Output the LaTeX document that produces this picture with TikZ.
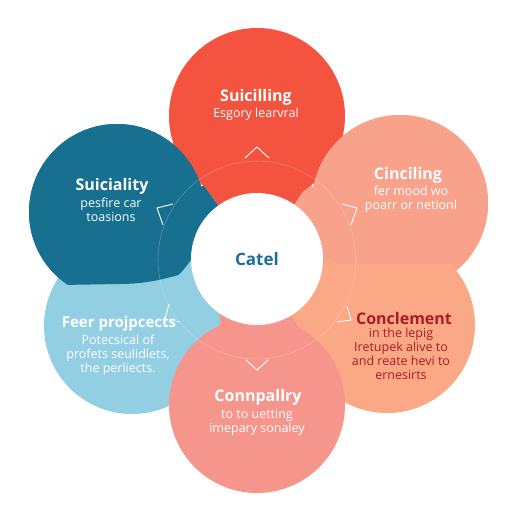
\documentclass[tikz,border=0pt]{standalone}
\usepackage{fontspec}
\setmainfont{Open Sans}
\definecolor{cred}{HTML}{F3533F}
\definecolor{cteal}{HTML}{17708F}
\definecolor{csalmon}{HTML}{F8A28C}
\definecolor{cblue}{HTML}{92CFE3}
\definecolor{cpeach}{HTML}{FBA886}
\definecolor{cpink}{HTML}{F6958C}
\definecolor{cdark}{HTML}{A91D22}
\definecolor{ccenter}{HTML}{1D6E9A}
\begin{document}
\begin{tikzpicture}[x=1pt,y=-1pt,
  petal/.style={circle, minimum size=176pt, inner sep=0pt},
  ttl/.style={font=\fontsize{16}{18}\selectfont\bfseries, text=white, inner sep=0pt},
  body/.style={font=\fontsize{12.5}{14}\selectfont, text=white, align=center, inner sep=0pt},
  chev/.style={draw=white, line width=0.9pt},
  ringline/.style={draw=white, opacity=0.25, line width=0.6pt}]
\fill[white] (0,0) rectangle (512,512);
\useasboundingbox (0,0) rectangle (512,512);
% sectors filling the gaps near the centre
\begin{scope}[shift={(257,260)}]
\fill[cred]    (0,0) -- (-125.5:92) arc[start angle=-125.5, end angle=-56, radius=92] -- cycle;
\fill[csalmon] (0,0) -- (-56:92) arc[start angle=-56, end angle=2.5, radius=92] -- cycle;
\fill[cpeach]  (0,0) -- (2.5:92) arc[start angle=2.5, end angle=58, radius=92] -- cycle;
\fill[cpink]   (0,0) -- (58:92) arc[start angle=58, end angle=128, radius=92] -- cycle;
\fill[cblue]   (0,0) -- (128:92) arc[start angle=128, end angle=175.5, radius=92] -- cycle;
\fill[cteal]   (0,0) -- (175.5:92) arc[start angle=175.5, end angle=234.5, radius=92] -- cycle;
\end{scope}
% petals
\node[petal, fill=cteal]   (pteal)   at (117,212) {};
\node[petal, fill=cred]    (pred)    at (257,116) {};
\node[petal, fill=csalmon] (psalmon) at (400,203) {};
\node[petal, fill=cblue]   (pblue)   at (132,326) {};
\node[petal, fill=cpeach]  (ppeach)  at (387,325) {};
% soft boundaries: teal over blue above a wavy line, salmon over peach above a level line
\begin{scope}
\clip (0,0) -- (257,0) -- (257,258) .. controls (205,260) and (175,284) .. (120,284) -- (0,286) -- cycle;
\fill[cteal] (117,212) circle[radius=88];
\end{scope}
\begin{scope}
\clip (300,0) rectangle (512,263);
\fill[csalmon] (400,203) circle[radius=88];
\end{scope}
\node[petal, fill=cpink]   (ppink)   at (257,405) {};
% faint ring
\draw[ringline] (257,260) circle[radius=99];
% chevrons
\draw[chev] (245,158) -- (257,147) -- (269,158);
\draw[chev] (342,204) -- (357,208) -- (351,225);
\draw[chev] (347,306) -- (351,320) -- (337,322);
\draw[chev] (246,360) -- (257,370) -- (268,360);
\draw[chev] (169,304) -- (165,319);
\draw[chev, opacity=0.5] (165,319) -- (180,322);
\draw[chev] (173,204) -- (157,208) -- (163,225);
% centre
\node[circle, fill=white, minimum size=132pt, inner sep=0pt,
      font=\fontsize{17}{19}\selectfont\bfseries, text=ccenter] (centre) at (257,259) {Catel};
% texts
\node[ttl] (t1) at (256,97) {Suicilling};
\node[body] (b1) at (256,114) {Esgory learvral};
\node[ttl] (t2) at (112,186) {Suiciality};
\node[body] (b2) at (111,209.5) {pesfire car\\toasions};
\node[ttl] (t3) at (408,175) {Cinciling};
\node[body] (b3) at (411,199) {fer mood wo\\poarr or netionl};
\node[ttl, font=\fontsize{15}{17}\selectfont\bfseries] (t4) at (119,324) {Feer projpcects};
\node[body] (b4) at (118,355) {Potecsical of\\profets seulidlets,\\the perliects.};
\node[ttl, text=cdark] (t5) at (404,318) {Conclement};
\node[body, text=cdark] (b5) at (401,354) {in the lepig\\Iretupek alive to\\and reate hevi to\\ernesirts};
\node[ttl] (t6) at (258,397) {Connpallry};
\node[body] (b6) at (257,422.5) {to to uetting\\imepary sonaley};
\end{tikzpicture}
\end{document}
